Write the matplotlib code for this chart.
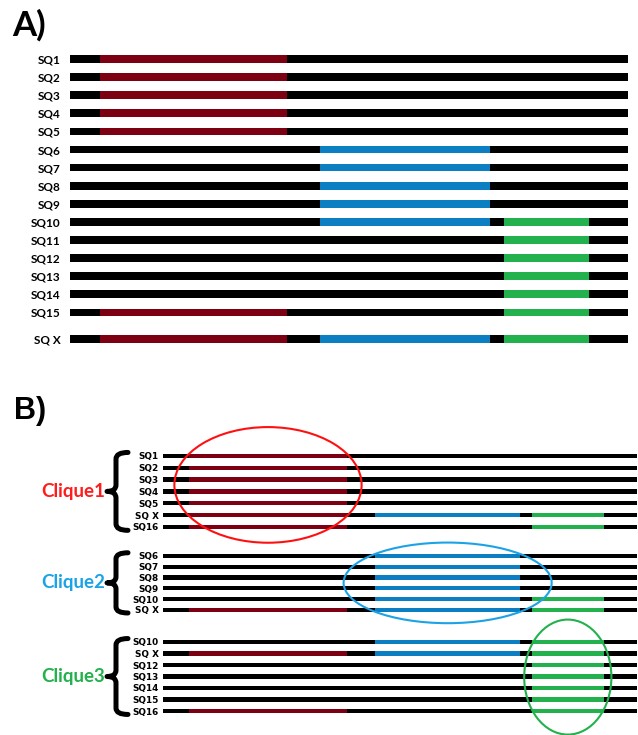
import matplotlib
matplotlib.use("Agg")
import matplotlib.pyplot as plt
from matplotlib.path import Path
from matplotlib.patches import PathPatch, Ellipse

# ---- data ---------------------------------------------------------------
# motif spans along the sequence (0..100 = full sequence length)
red_span = (5.4, 38.9)
blue_span = (44.8, 75.3)
green_span = (77.8, 93.0)
seq_length = 100.0

# panel A: all sequences
seqs_a = ["SQ1", "SQ2", "SQ3", "SQ4", "SQ5", "SQ6", "SQ7", "SQ8", "SQ9", "SQ10",
          "SQ11", "SQ12", "SQ13", "SQ14", "SQ15", "SQ X"]
rows_a = [0, 1, 2, 3, 4, 5, 6, 7, 8, 9, 10, 11, 12, 13, 14, 15.47]
red_a = ["SQ1", "SQ2", "SQ3", "SQ4", "SQ5", "SQ15", "SQ X"]
blue_a = ["SQ6", "SQ7", "SQ8", "SQ9", "SQ10", "SQ X"]
green_a = ["SQ10", "SQ11", "SQ12", "SQ13", "SQ14", "SQ15", "SQ X"]

# panel B: cliques
clique_names = ["Clique1", "Clique2", "Clique3"]
clique1_seqs = ["SQ1", "SQ2", "SQ3", "SQ4", "SQ5", "SQ X", "SQ16"]
clique2_seqs = ["SQ6", "SQ7", "SQ8", "SQ9", "SQ10", "SQ X"]
clique3_seqs = ["SQ10", "SQ X", "SQ12", "SQ13", "SQ14", "SQ15", "SQ16"]
red_b = ["SQ1", "SQ2", "SQ3", "SQ4", "SQ5", "SQ X", "SQ16"]
blue_b = ["SQ6", "SQ7", "SQ8", "SQ9", "SQ10", "SQ X"]
green_b = ["SQ10", "SQ X", "SQ12", "SQ13", "SQ14", "SQ15", "SQ16"]

# ---- style --------------------------------------------------------------
RED = "#7D0012"
BLUE = "#0B7FC1"
GREEN = "#22B14C"
CLQ_COLORS = ["#FF1C1C", "#1BA3E6", "#22B14C"]

W, H = 638, 735
fig = plt.figure(figsize=(W / 100, H / 100), dpi=100)
fig.patch.set_facecolor("white")


def px_axes(x0, x1, y0, y1):
    return fig.add_axes([x0 / W, 1 - y1 / H, (x1 - x0) / W, (y1 - y0) / H])


def draw_tracks(ax, names, rows, reds, blues, greens, height):
    ax.barh(rows, seq_length, left=0, height=height, color="black", zorder=1)
    for motif, span, col in ((reds, red_span, RED), (blues, blue_span, BLUE),
                             (greens, green_span, GREEN)):
        ys = [r for n, r in zip(names, rows) if n in motif]
        ax.barh(ys, span[1] - span[0], left=span[0], height=height,
                color=col, zorder=2)
    ax.set_xlim(0, seq_length)
    for s in ax.spines.values():
        s.set_visible(False)
    ax.set_xticks([])
    ax.tick_params(axis="y", length=0)


# ---- panel A ------------------------------------------------------------
sA = 18.1
y0A = 59
axA = px_axes(70, 628, y0A - 0.5 * sA, y0A + 16.0 * sA)
draw_tracks(axA, seqs_a, rows_a, red_a, blue_a, green_a, 0.43)
axA.set_ylim(16.0, -0.5)
axA.set_yticks(rows_a)
axA.set_yticklabels(seqs_a, fontfamily="Lato", fontweight="bold", fontsize=8.5)
axA.tick_params(axis="y", pad=7)

fig.text(12 / W, 1 - 36 / H, "A)", fontfamily="Lato", fontweight="bold",
         fontsize=25, ha="left", va="baseline")
fig.text(14 / W, 1 - 419 / H, "B)", fontfamily="Liberation Sans",
         fontweight="bold", fontsize=22, ha="left", va="baseline")

# ---- panel B ------------------------------------------------------------
groups = [clique1_seqs, clique2_seqs, clique3_seqs]
first_row_px = [456, 556, 642]
spacing_px = [11.8, 10.75, 11.5]
ellipses = [  # (centre x, centre row, width, height in rows)
    ((red_span[0] + red_span[1]) / 2, 2.45, 39.5, 9.8),
    ((blue_span[0] + blue_span[1]) / 2, 2.5, 43.9, 7.5),
    ((green_span[0] + green_span[1]) / 2, 3.05, 18.4, 10.0),
]
ell_colors = ["#FF1010", "#1BA3E6", "#22B14C"]
px_per_unit = 474 / seq_length


def brace(ax, top, bottom, color="black"):
    xe = -35 / px_per_unit
    xs = -47 / px_per_unit
    xt = -56 / px_per_unit
    mid = (top + bottom) / 2
    r = 0.55
    verts = [(xe, top), (xs, top), (xs, top + r),
             (xs, mid - r), (xs, mid), (xt, mid),
             (xs, mid), (xs, mid + r),
             (xs, bottom - r), (xs, bottom), (xe, bottom)]
    codes = [Path.MOVETO, Path.CURVE3, Path.CURVE3,
             Path.LINETO, Path.CURVE3, Path.CURVE3,
             Path.CURVE3, Path.CURVE3,
             Path.LINETO, Path.CURVE3, Path.CURVE3]
    ax.add_patch(PathPatch(Path(verts, codes), fill=False, lw=3.6,
                           color=color, capstyle="round", joinstyle="round",
                           clip_on=False))
    return mid


for g, seqs in enumerate(groups):
    n = len(seqs)
    s = spacing_px[g]
    y0 = first_row_px[g]
    ax = px_axes(163, 637, y0 - 0.5 * s, y0 + (n - 0.5) * s)
    rows = list(range(n))
    draw_tracks(ax, seqs, rows, red_b, blue_b, green_b, 0.38)
    ax.set_ylim(n - 0.5, -0.5)
    ax.set_yticks(rows)
    ax.set_yticklabels(seqs, fontfamily="DejaVu Sans", fontweight="bold",
                       fontsize=6.4)
    ax.tick_params(axis="y", pad=3)
    mid = brace(ax, -0.3, n - 1 + 0.3)
    ax.text(-58 / px_per_unit, mid, clique_names[g], color=CLQ_COLORS[g],
            fontfamily="Lato", fontweight="bold", fontsize=13.5,
            ha="right", va="center", clip_on=False)
    cx, cy, ew, eh = ellipses[g]
    ax.add_patch(Ellipse((cx, cy), ew, eh, fill=False, lw=1.5,
                         edgecolor=ell_colors[g], clip_on=False, zorder=5))

fig.savefig("out.png", dpi=100, facecolor="white")
